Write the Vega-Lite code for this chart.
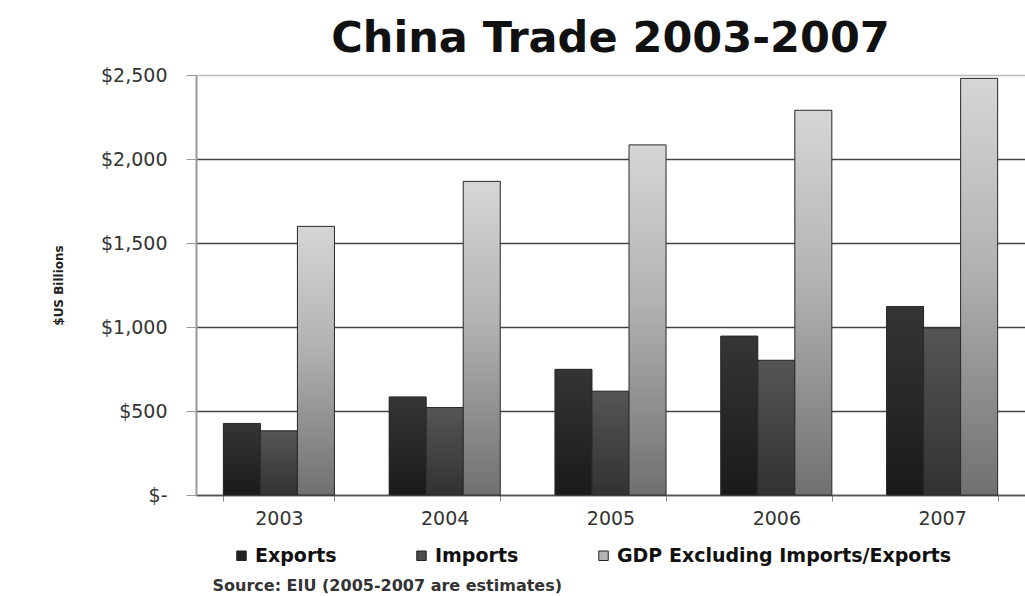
{
  "$schema": "https://vega.github.io/schema/vega-lite/v6.json",
  "width": 829,
  "height": 420,
  "autosize": {"type": "none"},
  "padding": {"left": 196, "top": 75, "right": 0, "bottom": 101},
  "background": "white",
  "title": {
    "text": "China Trade 2003-2007",
    "font": "DejaVu Sans",
    "fontSize": 43,
    "fontWeight": "bold",
    "color": "#111111",
    "anchor": "middle",
    "frame": "group",
    "offset": 5
  },
  "data": {
    "values": [
      {"year": "2003", "series": "Exports", "value": 426},
      {"year": "2003", "series": "Imports", "value": 382},
      {"year": "2003", "series": "GDP Excluding Imports/Exports", "value": 1599},
      {"year": "2004", "series": "Exports", "value": 584},
      {"year": "2004", "series": "Imports", "value": 521},
      {"year": "2004", "series": "GDP Excluding Imports/Exports", "value": 1867},
      {"year": "2005", "series": "Exports", "value": 748},
      {"year": "2005", "series": "Imports", "value": 618},
      {"year": "2005", "series": "GDP Excluding Imports/Exports", "value": 2084},
      {"year": "2006", "series": "Exports", "value": 946},
      {"year": "2006", "series": "Imports", "value": 802},
      {"year": "2006", "series": "GDP Excluding Imports/Exports", "value": 2290},
      {"year": "2007", "series": "Exports", "value": 1122},
      {"year": "2007", "series": "Imports", "value": 994},
      {"year": "2007", "series": "GDP Excluding Imports/Exports", "value": 2480}
    ]
  },
  "encoding": {
    "x": {
      "field": "year",
      "type": "ordinal",
      "scale": {"paddingInner": 0.33, "paddingOuter": 0.165},
      "axis": {
        "title": "Source:  EIU (2005-2007 are estimates)",
        "titleFont": "DejaVu Sans",
        "titleFontSize": 16,
        "titleFontWeight": "bold",
        "titleColor": "#333333",
        "titleAnchor": "start",
        "titleAlign": "left",
        "titleBaseline": "alphabetic",
        "titleX": 16,
        "titleY": 95,
        "labelAngle": 0,
        "labelFont": "DejaVu Sans",
        "labelFontSize": 19,
        "labelColor": "#333333",
        "labelPadding": 8,
        "tickBand": "extent",
        "tickSize": 6,
        "tickColor": "#888888",
        "domainColor": "#555555",
        "domainWidth": 1.5
      }
    },
    "xOffset": {
      "field": "series",
      "type": "nominal",
      "sort": ["Exports", "Imports", "GDP Excluding Imports/Exports"],
      "scale": {"paddingInner": 0, "paddingOuter": 0}
    },
    "y": {
      "field": "value",
      "type": "quantitative",
      "scale": {"domain": [0, 2500], "nice": false},
      "axis": {
        "title": "$US Billions",
        "titleFont": "DejaVu Sans",
        "titleFontSize": 12,
        "titleFontWeight": "bold",
        "titleColor": "#222222",
        "titlePadding": 35,
        "values": [0, 500, 1000, 1500, 2000, 2500],
        "labelExpr": "datum.value === 0 ? '$-' : '$' + format(datum.value, ',')",
        "labelFont": "DejaVu Sans",
        "labelFontSize": 19,
        "labelColor": "#333333",
        "labelPadding": 19,
        "tickSize": 10,
        "tickColor": "#999999",
        "domainColor": "#999999",
        "domainWidth": 2,
        "grid": true,
        "gridColor": {"condition": {"test": "datum.value === 2500", "value": "#bbbbbb"}, "value": "#444444"},
        "gridWidth": 1.5
      }
    }
  },
  "layer": [
    {
      "mark": {"type": "bar"},
      "encoding": {
        "color": {
          "field": "series",
          "type": "nominal",
          "sort": ["Exports", "Imports", "GDP Excluding Imports/Exports"],
          "scale": {"range": ["#222222", "#4a4a4a", "#b5b5b5"]},
          "legend": {
            "title": null,
            "orient": "none",
            "legendX": 36,
            "legendY": 471,
            "direction": "horizontal",
            "padding": 0,
            "symbolType": "square",
            "symbolSize": 90,
            "symbolStrokeColor": "#222222",
            "symbolStrokeWidth": 1,
            "labelFont": "DejaVu Sans",
            "labelFontSize": 19,
            "labelFontWeight": "bold",
            "labelColor": "#111111",
            "labelOffset": 4,
            "labelLimit": 500,
            "columnPadding": 75
          }
        }
      }
    },
    {
      "mark": {"type": "bar", "stroke": "#2a2a2a", "strokeWidth": 1},
      "encoding": {
        "fill": {
          "condition": [
            {
              "test": "datum.series === 'Exports'",
              "value": {"gradient": "linear", "x1": 0, "y1": 0, "x2": 0, "y2": 1, "stops": [{"offset": 0, "color": "#353535"}, {"offset": 1, "color": "#1a1a1a"}]}
            },
            {
              "test": "datum.series === 'Imports'",
              "value": {"gradient": "linear", "x1": 0, "y1": 0, "x2": 0, "y2": 1, "stops": [{"offset": 0, "color": "#555555"}, {"offset": 1, "color": "#323232"}]}
            }
          ],
          "value": {"gradient": "linear", "x1": 0, "y1": 0, "x2": 0, "y2": 1, "stops": [{"offset": 0, "color": "#d6d6d6"}, {"offset": 0.45, "color": "#b2b2b2"}, {"offset": 1, "color": "#707070"}]}
        }
      }
    }
  ],
  "config": {"view": {"stroke": null}}
}
